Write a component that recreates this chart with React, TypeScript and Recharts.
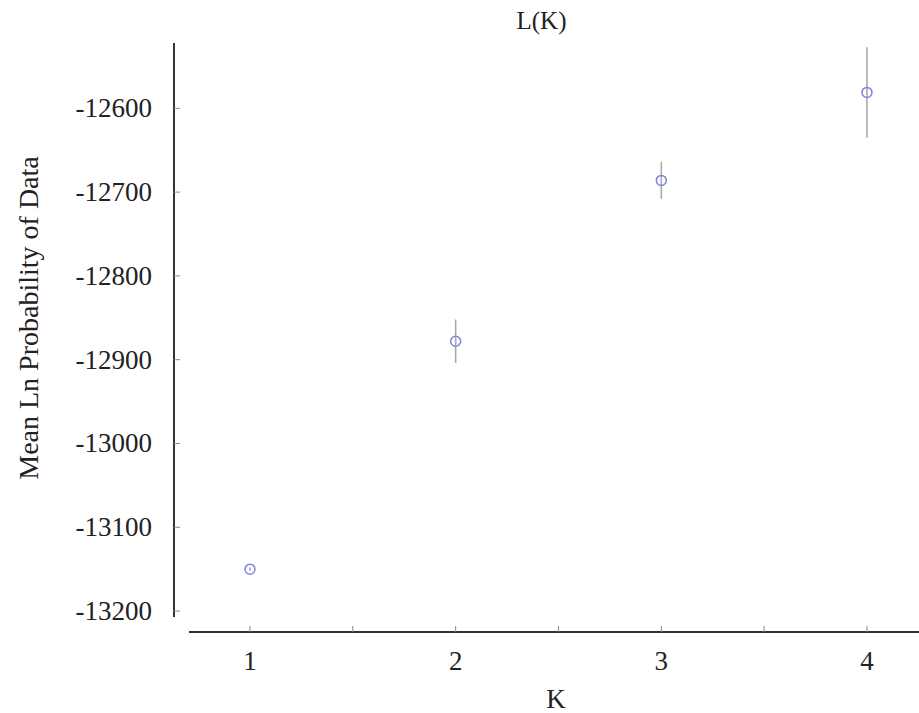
import React from 'react'
import {
  ScatterChart,
  Scatter,
  XAxis,
  YAxis,
  ErrorBar,
  ReferenceLine
} from 'recharts'

const kValues = [1, 2, 3, 4]
const meanLnP = [-13150, -12878, -12686, -12581]
const stdev = [2, 26, 22, 54]

const xTicks = [1, 1.5, 2, 2.5, 3, 3.5, 4]
const yTicks = [-13200, -13100, -13000, -12900, -12800, -12700, -12600]

const xDomain: [number, number] = [0.6305, 4.253]
const yDomain: [number, number] = [-13225, -12522]

const font = '"Liberation Serif", "Times New Roman", serif'

const data = kValues.map((k, i) => ({ k, mean: meanLnP[i], sd: stdev[i] }))

const XTick = (props: any) => {
  const { x, y, payload } = props
  const isInt = Number.isInteger(payload.value)
  return (
    <g>
      <line x1={x} y1={y} x2={x} y2={y - 6} stroke="#888" strokeWidth={1} />
      {isInt && (
        <text x={x} y={y + 38} textAnchor="middle" style={{ fontFamily: font, fontSize: 27 }} fill="#222">
          {payload.value}
        </text>
      )}
    </g>
  )
}

const YTick = (props: any) => {
  const { x, y, payload } = props
  return (
    <g>
      <line x1={x} y1={y} x2={x + 6} y2={y} stroke="#888" strokeWidth={1} />
      <text x={x - 22} y={y + 9} textAnchor="end" style={{ fontFamily: font, fontSize: 27 }} fill="#222">
        {payload.value}
      </text>
    </g>
  )
}

const Dot = (props: any) => {
  const { cx, cy } = props
  return (
    <g>
      <circle cx={cx} cy={cy} r={5} fill="none" stroke="#7f84d8" strokeWidth={1.5} />
      <circle cx={cx} cy={cy} r={1} fill="#b0b3e6" />
    </g>
  )
}

export default function App() {
  return (
    <div style={{ position: 'absolute', left: 0, top: 0, width: 919, height: 713, background: '#fff' }}>
      <div
        style={{
          position: 'absolute',
          left: 0,
          width: 1083,
          top: 7,
          textAlign: 'center',
          fontFamily: font,
          fontSize: 25,
          color: '#222'
        }}
      >
        L(K)
      </div>
      <ScatterChart width={919} height={713} margin={{ top: 43, right: 0, bottom: 0, left: 0 }}>
        <XAxis
          type="number"
          dataKey="k"
          domain={xDomain}
          ticks={xTicks}
          interval={0}
          height={81}
          axisLine={false}
          tickLine={false}
          tickSize={0}
          tickMargin={0}
          tick={<XTick />}
          allowDataOverflow
          label={() => (
            <text x={556} y={708} textAnchor="middle" style={{ fontFamily: font, fontSize: 27 }} fill="#222">
              K
            </text>
          )}
        />
        <YAxis
          type="number"
          dataKey="mean"
          domain={yDomain}
          ticks={yTicks}
          interval={0}
          width={174}
          axisLine={false}
          tickLine={false}
          tickSize={0}
          tickMargin={0}
          tick={<YTick />}
          allowDataOverflow
          label={() => (
            <text
              x={38}
              y={318}
              transform="rotate(-90, 38, 318)"
              textAnchor="middle"
              style={{ fontFamily: font, fontSize: 28 }}
              fill="#222"
            >
              Mean Ln Probability of Data
            </text>
          )}
        />
        <ReferenceLine
          segment={[
            { x: xDomain[0], y: -13207 },
            { x: xDomain[0], y: yDomain[1] }
          ]}
          stroke="#333"
          strokeWidth={2}
          ifOverflow="visible"
        />
        <ReferenceLine
          segment={[
            { x: 0.7035, y: yDomain[0] },
            { x: xDomain[1], y: yDomain[0] }
          ]}
          stroke="#333"
          strokeWidth={2}
          ifOverflow="visible"
        />
        <Scatter data={data} shape={<Dot />} isAnimationActive={false}>
          <ErrorBar dataKey="sd" direction="y" width={0} stroke="#a6a6a6" strokeWidth={1.5} />
        </Scatter>
      </ScatterChart>
    </div>
  )
}
